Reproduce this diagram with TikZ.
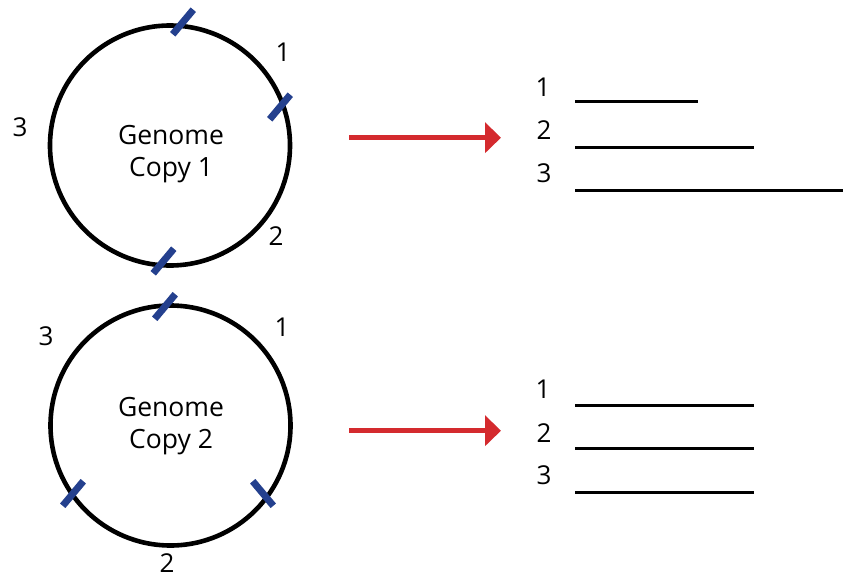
\documentclass[tikz,border=0pt]{standalone}
\usepackage{fontspec}
\setmainfont{Open Sans}
\usetikzlibrary{arrows.meta}
\definecolor{cutblue}{HTML}{24408E}
\definecolor{arrowred}{HTML}{D42A2E}
\tikzset{
  genome/.style={circle, draw=black, line width=4.6pt, minimum size=240pt, inner sep=0pt},
  gtext/.style={align=center, font=\fontsize{26.5}{32}\selectfont, inner sep=0pt},
  num/.style={font=\fontsize{26}{30}\selectfont, inner sep=0pt},
  cut/.style={draw=cutblue, line width=7pt},
  bar/.style={draw=black, line width=3pt},
  redarrow/.style={draw=arrowred, line width=5pt, -{Triangle[length=16pt, width=30pt]}},
}
\begin{document}
\begin{tikzpicture}[x=1pt, y=-1pt]
\useasboundingbox (0,0) rectangle (844,576);

% first genome copy with its three cut sites
\node[genome] (g1) at (170,145.5) {};
\node[gtext] (t1) at (171,154) {Genome\\Copy 1};
\draw[cut] (172.7,34.3) -- (193.3,9.7);
\draw[cut] (269.7,119.3) -- (290.3,94.7);
\draw[cut] (153.2,273.3) -- (173.8,248.7);
\node[num] (a1) at (283,52) {1};
\node[num] (a2) at (276,236) {2};
\node[num] (a3) at (20,127) {3};

% second genome copy
\node[genome] (g2) at (170.5,425.5) {};
\node[gtext] (t2) at (171,426) {Genome\\Copy 2};
\draw[cut] (154.7,318.8) -- (175.3,294.2);
\draw[cut] (62.7,505.8) -- (83.3,481.2);
\draw[cut] (252.7,481.2) -- (273.3,505.8);
\node[num] (b1) at (282,327) {1};
\node[num] (b2) at (167,563) {2};
\node[num] (b3) at (46,336) {3};

% arrows to the fragment sets
\coordinate (r1s) at (349,137.7);
\coordinate (r1e) at (501,137.7);
\coordinate (r2s) at (349,430.7);
\coordinate (r2e) at (501,430.7);
\draw[redarrow] (r1s) -- (r1e);
\draw[redarrow] (r2s) -- (r2e);

% fragments from copy 1
\node[num] (f11) at (543,87) {1};
\node[num] (f12) at (544,130) {2};
\node[num] (f13) at (544,173) {3};
\coordinate (l11) at (575,101.7); \coordinate (m11) at (698,101.7);
\coordinate (l12) at (575,147);   \coordinate (m12) at (754,147);
\coordinate (l13) at (575,190);   \coordinate (m13) at (843,190);
\draw[bar] (l11) -- (m11);
\draw[bar] (l12) -- (m12);
\draw[bar] (l13) -- (m13);

% fragments from copy 2
\node[num] (f21) at (543,389) {1};
\node[num] (f22) at (544,432.7) {2};
\node[num] (f23) at (544,475) {3};
\coordinate (l21) at (575,405);   \coordinate (m21) at (754,405);
\coordinate (l22) at (575,448.7); \coordinate (m22) at (754,448.7);
\coordinate (l23) at (575,492.3); \coordinate (m23) at (754,492.3);
\draw[bar] (l21) -- (m21);
\draw[bar] (l22) -- (m22);
\draw[bar] (l23) -- (m23);
\end{tikzpicture}
\end{document}
